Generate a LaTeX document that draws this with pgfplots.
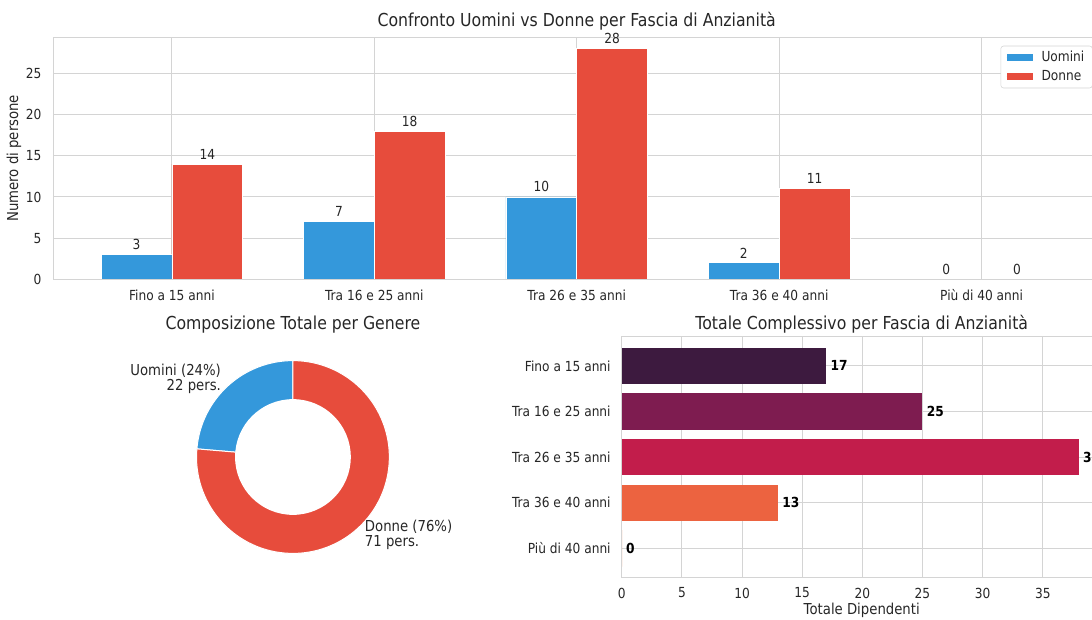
\documentclass[border=0pt]{standalone}
\usepackage{pgfplots}
\pgfplotsset{compat=1.18}
\usepackage{fontspec}
\setmainfont{DejaVu Sans}[FakeStretch=0.88]

\definecolor{cU}{HTML}{3498DB}
\definecolor{cD}{HTML}{E74C3C}
\definecolor{gridc}{HTML}{D4D4D4}
\definecolor{txt}{HTML}{262626}
\definecolor{r1}{HTML}{3D1A3F}
\definecolor{r2}{HTML}{7E1C50}
\definecolor{r3}{HTML}{C21D4B}
\definecolor{r4}{HTML}{EC6340}
\definecolor{r5}{HTML}{F4A27A}

\newcommand{\tfont}{\fontsize{10.4}{12}\selectfont}
\newcommand{\lfont}{\fontsize{11.3}{13}\selectfont}
\newcommand{\hfont}{\fontsize{13.4}{16}\selectfont}

\pgfplotsset{
  base/.style={
    scale only axis,
    axis line style={gridc},
    grid=major,
    major grid style={gridc, line width=0.75pt},
    major tick length=0pt,
    tick label style={font=\tfont, text=txt},
    /pgf/number format/assume math mode=true,
    every axis title shift=0pt,
    title style={font=\hfont, text=txt, at={(0.5,1)}, anchor=center},
  },
  patch/.style={legend image code/.code={
    \path (0pt,0pt) -- (24pt,0pt);
    \fill[#1, draw=none, sharp corners] (0pt,-2.6pt) rectangle (20pt,2.6pt);}},
}

% totali per genere
\def\nU{22}
\def\nD{71}

\begin{document}
\begin{tikzpicture}

% --- confronto uomini / donne
\begin{axis}[base,
  at={(40.1pt,254.8pt)}, anchor=south west,
  width=784.9pt, height=181.5pt,
  xmin=-0.585, xmax=4.585, ymin=0, ymax=29.4,
  xtick={0,...,4},
  xticklabels={Fino a 15 anni, Tra 16 e 25 anni, Tra 26 e 35 anni, Tra 36 e 40 anni, Più di 40 anni},
  ytick={0,5,...,25},
  xticklabel style={yshift=-4.3pt},
  yticklabel style={xshift=-5.5pt},
  ybar, bar width=0.35,
  ylabel={Numero di persone},
  every axis y label/.style={at={(axis description cs:-0.0377,0.5)}, rotate=90,
    anchor=center, font=\lfont, text=txt},
  title={Confronto Uomini vs Donne per Fascia di Anzianità},
  title style={yshift=11.7pt},
  legend style={at={(0.905,0.965)}, anchor=north west, draw=gridc, rounded corners=2pt,
    font=\tfont, text=txt, inner xsep=4pt, inner ysep=2pt, row sep=1pt},
  legend cell align=left,
  nodes near coords,
  nodes near coords style={font=\tfont, text=txt},
]
\addplot[fill=cU, draw=white, line width=0.5pt, bar shift=-0.175, patch]
  coordinates {(0,3) (1,7) (2,10) (3,2) (4,0)};
\addplot[fill=cD, draw=white, line width=0.5pt, bar shift=0.175, patch]
  coordinates {(0,14) (1,18) (2,28) (3,11) (4,0)};
\legend{Uomini, Donne}
\draw[gridc] (rel axis cs:0,0) -- (rel axis cs:1,0);
\end{axis}

% --- composizione per genere (ciambella)
\pgfmathsetmacro{\aU}{90+360*\nU/(\nU+\nD)}
\pgfmathsetmacro{\mU}{(90+\aU)/2}
\pgfmathsetmacro{\mD}{(\aU+450)/2}
\begin{axis}[
  at={(219.7pt,121.5pt)}, anchor=center,
  scale only axis, width=144.6pt, height=144.6pt,
  xmin=-1, xmax=1, ymin=-1, ymax=1,
  hide axis, clip=false,
  every axis title shift=0pt,
  title={Composizione Totale per Genere},
  title style={font=\hfont, text=txt, at={(0.5,1)}, anchor=center, yshift=27.3pt},
]
\filldraw[fill=cU, draw=white, line width=0.75pt] (axis cs:0,0) -- ++(90:72.3pt)
  arc[start angle=90, end angle=\aU, radius=72.3pt] -- cycle;
\filldraw[fill=cD, draw=white, line width=0.75pt] (axis cs:0,0) -- ++(\aU:72.3pt)
  arc[start angle=\aU, end angle=450, radius=72.3pt] -- cycle;
\fill[white] (axis cs:0,0) circle[radius=43.4pt];
\node[anchor=east, align=right, font=\fontsize{11.3}{11.5}\selectfont, text=txt, inner sep=0pt]
  at (axis cs:{1.1*cos(\mU)},{1.1*sin(\mU)}) {Uomini (24\%)\\22 pers.};
\node[anchor=west, align=left, font=\fontsize{11.3}{11.5}\selectfont, text=txt, inner sep=0pt]
  at (axis cs:{1.1*cos(\mD)},{1.1*sin(\mD)}) {Donne (76\%)\\71 pers.};
\end{axis}

% --- totale per fascia
\begin{axis}[base,
  at={(466.3pt,31pt)}, anchor=south west,
  width=360pt, height=180.75pt,
  xmin=0, xmax=39.9, ymin=-0.64, ymax=4.64, y dir=reverse,
  xtick={0,5,...,35}, ytick={0,...,4},
  yticklabels={Fino a 15 anni, Tra 16 e 25 anni, Tra 26 e 35 anni, Tra 36 e 40 anni, Più di 40 anni},
  xticklabel style={yshift=-4pt},
  yticklabel style={xshift=-4.8pt},
  xbar, bar width=0.8, bar shift=0,
  xlabel={Totale Dipendenti},
  every axis x label/.style={at={(axis description cs:0.5,-0.134)}, anchor=center,
    font=\lfont, text=txt},
  title={Totale Complessivo per Fascia di Anzianità},
  title style={yshift=9.3pt},
  nodes near coords,
  nodes near coords style={font=\tfont\bfseries, text=black, anchor=west, inner xsep=3pt},
]
\addplot[fill=r1, draw=none] coordinates {(17,0)};
\addplot[fill=r2, draw=none] coordinates {(25,1)};
\addplot[fill=r3, draw=none] coordinates {(38,2)};
\addplot[fill=r4, draw=none] coordinates {(13,3)};
\addplot[fill=r5, draw=none] coordinates {(0,4)};
\end{axis}

\pgfresetboundingbox
\useasboundingbox (0,0) rectangle (819pt,464.25pt);
\end{tikzpicture}
\end{document}
